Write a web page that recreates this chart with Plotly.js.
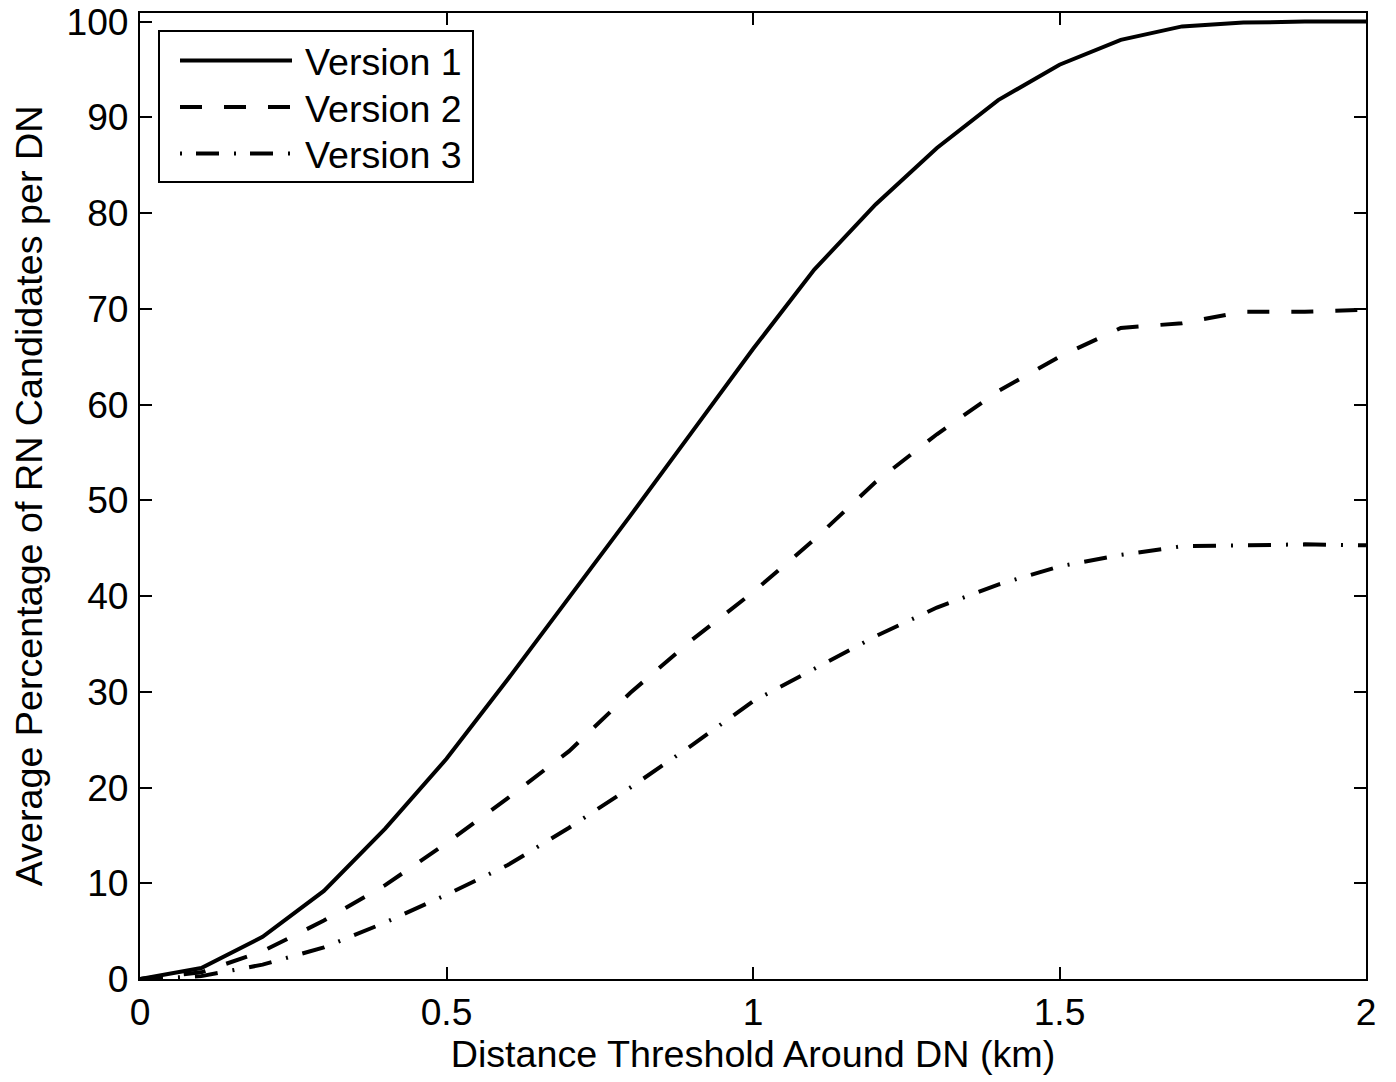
<!DOCTYPE html>
<html>
<head>
<meta charset="utf-8">
<script src="https://cdn.plot.ly/plotly-3.0.1.min.js"></script>
<style>html,body{margin:0;padding:0;background:#fff;}#chart{width:1396px;height:1082px;}</style>
</head>
<body>
<div id="chart"></div>
<script>
// Data
const distanceKm = [0, 0.1, 0.2, 0.3, 0.4, 0.5, 0.6, 0.7, 0.8, 0.9, 1.0, 1.1, 1.2, 1.3, 1.4, 1.5, 1.6, 1.7, 1.8, 1.9, 2.0];
const version1 = [0, 1.15, 4.4, 9.2, 15.7, 23.0, 31.3, 39.8, 48.4, 57.1, 65.8, 74.1, 80.9, 86.8, 91.8, 95.5, 98.1, 99.5, 99.9, 100.0, 100.0];
const version2 = [0, 0.7, 2.9, 6.1, 9.8, 14.2, 18.9, 23.8, 29.9, 35.4, 40.4, 45.9, 51.9, 56.9, 61.4, 65.0, 68.0, 68.5, 69.7, 69.7, 69.9];
const version3 = [0, 0.3, 1.5, 3.3, 5.9, 8.8, 11.9, 15.8, 20.0, 24.4, 29.0, 32.4, 35.8, 38.8, 41.2, 43.1, 44.3, 45.2, 45.3, 45.4, 45.3];
const seriesNames = ["Version 1", "Version 2", "Version 3"];
const xTickVals = [0, 0.5, 1, 1.5, 2];
const xTickText = ["0", "0.5", "1", "1.5", "2"];
const yTickVals = [0, 10, 20, 30, 40, 50, 60, 70, 80, 90, 100];
const yTickText = ["0", "10", "20", "30", "40", "50", "60", "70", "80", "90", "100"];

const FONT = "Liberation Sans, Arial, Helvetica, sans-serif";
const dashStyles = ["solid", "22px,22px", "23px,15px,2px,15px"];
const legendDash = ["solid", "22px,22px", "2px,14px,23px,15px"];
const LW = 4;

const ys = [version1, version2, version3];
const traces = ys.map((y, i) => ({
  x: distanceKm, y: y, type: "scatter", mode: "lines", name: seriesNames[i],
  line: {color: "#000", width: LW, dash: dashStyles[i]}, showlegend: false, hoverinfo: "skip"
}));

// Custom legend box (MATLAB style) anchored to top-left of the plot area
const shapes = [{
  type: "rect", xref: "paper", yref: "paper", xsizemode: "pixel", ysizemode: "pixel",
  xanchor: 0, yanchor: 1, x0: 19, x1: 333, y0: -18, y1: -169,
  line: {color: "#000", width: 2}, fillcolor: "#fff", layer: "above"
}];
const rowY = [-47.5, -94, -140.5];
const annotations = [];
seriesNames.forEach((nm, i) => {
  shapes.push({
    type: "line", xref: "paper", yref: "paper", xsizemode: "pixel", ysizemode: "pixel",
    xanchor: 0, yanchor: 1, x0: 40, x1: 152, y0: rowY[i], y1: rowY[i],
    line: {color: "#000", width: LW, dash: legendDash[i]}, layer: "above"
  });
  annotations.push({
    xref: "paper", yref: "paper", x: 0, y: 1, xanchor: "left", yanchor: "middle",
    xshift: 163, yshift: rowY[i] - 1.5, text: nm, showarrow: false,
    font: {family: FONT, size: 37.6, color: "#000"}
  });
});

const axisCommon = {
  showline: true, linecolor: "#000", linewidth: 2, mirror: "ticks",
  ticks: "inside", ticklen: 12, tickwidth: 2, tickcolor: "#000",
  showgrid: false, zeroline: false, automargin: false,
  tickfont: {family: FONT, size: 37.2, color: "#000"}
};

const layout = {
  width: 1396, height: 1082,
  margin: {l: 140, r: 30, t: 13, b: 103, pad: 0},
  paper_bgcolor: "#fff", plot_bgcolor: "#fff",
  showlegend: false,
  font: {family: FONT, color: "#000"},
  xaxis: Object.assign({}, axisCommon, {
    range: [0, 2], tickmode: "array", tickvals: xTickVals, ticktext: xTickText,
    ticklabelstandoff: -1,
    title: {text: "Distance Threshold Around DN (km)", font: {family: FONT, size: 37.7, color: "#000"}, standoff: 6}
  }),
  yaxis: Object.assign({}, axisCommon, {
    range: [0, 100.9], tickmode: "array", tickvals: yTickVals, ticktext: yTickText,
    ticklabelstandoff: 2,
    title: {text: "Average Percentage of RN Candidates per DN", font: {family: FONT, size: 37.7, color: "#000"}, standoff: 12}
  }),
  shapes: shapes,
  annotations: annotations
};

Plotly.newPlot("chart", traces, layout, {staticPlot: true, displayModeBar: false});
</script>
</body>
</html>
